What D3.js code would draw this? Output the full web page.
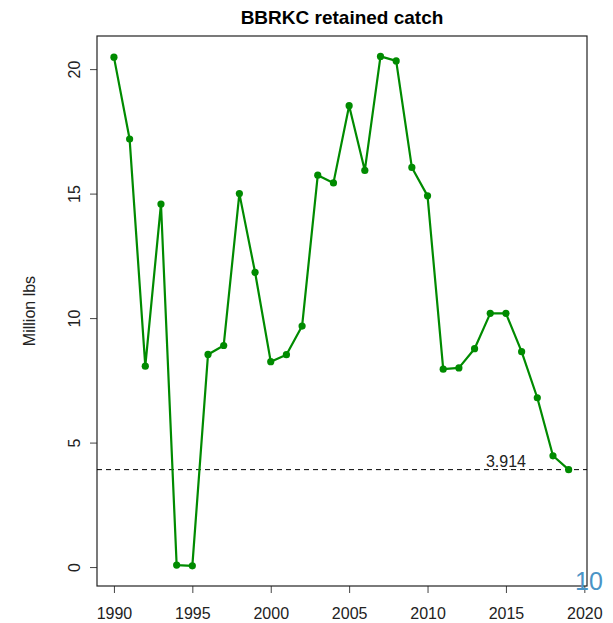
<!DOCTYPE html>
<html><head><meta charset="utf-8">
<script src="https://cdn.jsdelivr.net/npm/d3@7"></script>
<style>body{margin:0;background:#fff}svg{display:block;font-family:"Liberation Sans",Arial,sans-serif}</style>
</head><body><svg id="c" width="613" height="623"></svg>
<script>
const years = [1990,1991,1992,1993,1994,1995,1996,1997,1998,1999,2000,2001,2002,2003,2004,2005,2006,2007,2008,2009,2010,2011,2012,2013,2014,2015,2016,2017,2018,2019];
const catchMlbs = [20.48,17.19,8.07,14.58,0.08,0.05,8.54,8.9,15.0,11.84,8.25,8.53,9.68,15.74,15.43,18.53,15.93,20.51,20.33,16.05,14.91,7.95,8.0,8.77,10.19,10.19,8.65,6.8,4.47,3.914];
const xTicks = [1990,1995,2000,2005,2010,2015,2020];
const yTicks = [0,5,10,15,20];
const refValue = 3.914;
const title = "BBRKC retained catch";
const yLabel = "Million lbs";

const L=97,R=587,T=36,B=586;
const svg=d3.select("#c");
const x=d3.scaleLinear().domain([1988.92,2020.17]).range([L,R]);
const y=d3.scaleLinear().domain([-0.76,21.33]).range([B,T]);

svg.append("text").attr("x",(L+R)/2).attr("y",24).attr("text-anchor","middle")
  .attr("font-weight","bold").attr("font-size",19).attr("fill","#000").text(title);

// axes
const xa=svg.append("g").attr("transform",`translate(0,${B})`)
  .call(d3.axisBottom(x).tickValues(xTicks).tickFormat(d3.format("d")).tickSize(7).tickSizeOuter(0));
xa.select(".domain").remove();
xa.selectAll("line").attr("stroke","#444");
xa.selectAll("text").attr("font-size",16).attr("fill","#222").attr("dy","1.45em").attr("font-family","Liberation Sans, Arial, sans-serif");

const ya=svg.append("g").attr("transform",`translate(${L},0)`)
  .call(d3.axisLeft(y).tickValues(yTicks).tickSize(7).tickSizeOuter(0));
ya.select(".domain").remove();
ya.selectAll("line").attr("stroke","#444");
ya.selectAll("text").attr("font-size",16).attr("fill","#222").attr("font-family","Liberation Sans, Arial, sans-serif")
  .attr("x",null).attr("dy",null).attr("text-anchor","middle")
  .attr("transform",function(d){return `translate(-23,${0}) rotate(-90)`;})
  .attr("y",6);

svg.append("text").attr("transform",`translate(35,${(T+B)/2}) rotate(-90)`).attr("text-anchor","middle")
  .attr("font-size",16).attr("fill","#222").text(yLabel);

// box
svg.append("rect").attr("x",L).attr("y",T).attr("width",R-L).attr("height",B-T)
  .attr("fill","none").attr("stroke","#222").attr("stroke-width",1.2);

// reference line
svg.append("line").attr("x1",L).attr("x2",R).attr("y1",y(refValue)).attr("y2",y(refValue))
  .attr("stroke","#000").attr("stroke-width",1).attr("stroke-dasharray","5,4");
svg.append("text").attr("x",x(2015)).attr("y",y(refValue)-3).attr("text-anchor","middle")
  .attr("font-size",16).attr("fill","#222").text(d3.format(".3f")(refValue));

const data=years.map((yr,i)=>({yr,v:catchMlbs[i]}));
svg.append("path").datum(data).attr("fill","none").attr("stroke","#008B00").attr("stroke-width",2.2)
  .attr("stroke-linejoin","round")
  .attr("d",d3.line().x(d=>x(d.yr)).y(d=>y(d.v)));
svg.append("g").selectAll("circle").data(data).join("circle")
  .attr("cx",d=>x(d.yr)).attr("cy",d=>y(d.v)).attr("r",3.6).attr("fill","#008B00");

svg.append("text").attr("x",589).attr("y",590).attr("text-anchor","middle")
  .attr("font-size",25).attr("fill","#4a94c6").text("10");
</script></body></html>
